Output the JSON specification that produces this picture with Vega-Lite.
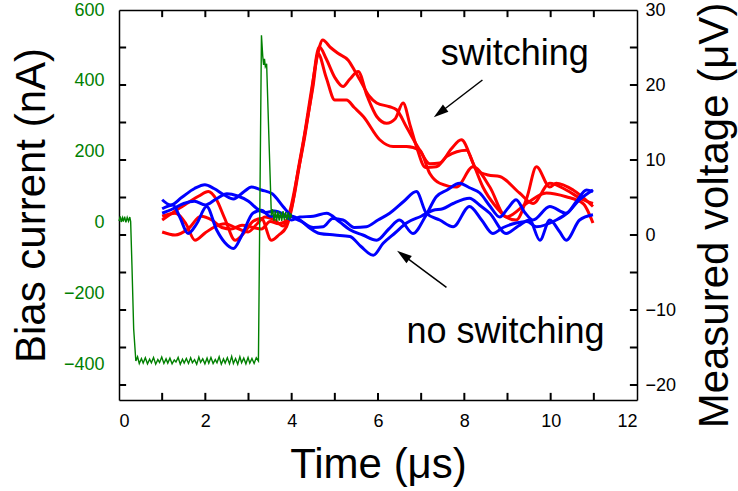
{
"$schema": "https://vega.github.io/schema/vega-lite/v6.json",
"width": 518, "height": 390,
"autosize": {"type": "none"},
"padding": {"left": 119, "top": 10, "right": 101, "bottom": 91},
"background": "white",
"config": {
  "font": "Liberation Sans",
  "view": {"stroke": null},
  "axis": {"grid": false, "labelFontSize": 18, "labelColor": "black", "labelFont": "Liberation Sans", "titleFont": "Liberation Sans", "titleFontWeight": "normal", "titleColor": "black"}
},
"datasets": {
  "traces": [
    {"id":"r1","c":"s","t":1.0,"v":2.0},{"id":"r1","c":"s","t":1.3,"v":3.2},{"id":"r1","c":"s","t":1.6,"v":4.3},{"id":"r1","c":"s","t":1.85,"v":5.2},{"id":"r1","c":"s","t":2.07,"v":5.8},{"id":"r1","c":"s","t":2.25,"v":4.8},{"id":"r1","c":"s","t":2.45,"v":2.2},{"id":"r1","c":"s","t":2.69,"v":-0.7},{"id":"r1","c":"s","t":2.9,"v":0.3},{"id":"r1","c":"s","t":3.1,"v":1.8},{"id":"r1","c":"s","t":3.3,"v":2.2},{"id":"r1","c":"s","t":3.53,"v":-0.7},{"id":"r1","c":"s","t":3.7,"v":0.0},{"id":"r1","c":"s","t":3.88,"v":1.1},{"id":"r1","c":"s","t":4.0,"v":3.5},{"id":"r1","c":"s","t":4.15,"v":8.7},{"id":"r1","c":"s","t":4.3,"v":13.5},{"id":"r1","c":"s","t":4.45,"v":19},{"id":"r1","c":"s","t":4.6,"v":24},{"id":"r1","c":"s","t":4.72,"v":26},{"id":"r1","c":"s","t":4.9,"v":25},{"id":"r1","c":"s","t":5.08,"v":24.2},{"id":"r1","c":"s","t":5.31,"v":23.3},{"id":"r1","c":"s","t":5.45,"v":22},{"id":"r1","c":"s","t":5.58,"v":20.7},{"id":"r1","c":"s","t":5.8,"v":18.5},{"id":"r1","c":"s","t":5.97,"v":17.6},{"id":"r1","c":"s","t":6.27,"v":17.1},{"id":"r1","c":"s","t":6.43,"v":16.7},{"id":"r1","c":"s","t":6.66,"v":14.4},{"id":"r1","c":"s","t":6.97,"v":11.3},{"id":"r1","c":"s","t":7.2,"v":9.5},{"id":"r1","c":"s","t":7.43,"v":9.6},{"id":"r1","c":"s","t":7.7,"v":11.5},{"id":"r1","c":"s","t":7.93,"v":12.7},{"id":"r1","c":"s","t":8.2,"v":9.6},{"id":"r1","c":"s","t":8.43,"v":6.4},{"id":"r1","c":"s","t":8.7,"v":4.0},{"id":"r1","c":"s","t":8.97,"v":2.4},{"id":"r1","c":"s","t":9.2,"v":2.0},{"id":"r1","c":"s","t":9.45,"v":5.0},{"id":"r1","c":"s","t":9.67,"v":9.1},{"id":"r1","c":"s","t":9.98,"v":6.4},{"id":"r1","c":"s","t":10.13,"v":6.9},{"id":"r1","c":"s","t":10.52,"v":6.0},{"id":"r1","c":"s","t":10.98,"v":3.8},
    {"id":"r2","c":"s","t":1.0,"v":2.5},{"id":"r2","c":"s","t":1.3,"v":2.9},{"id":"r2","c":"s","t":1.55,"v":1.5},{"id":"r2","c":"s","t":1.76,"v":-0.7},{"id":"r2","c":"s","t":2.0,"v":0.3},{"id":"r2","c":"s","t":2.22,"v":1.1},{"id":"r2","c":"s","t":2.45,"v":1.5},{"id":"r2","c":"s","t":2.7,"v":1.0},{"id":"r2","c":"s","t":2.99,"v":0.4},{"id":"r2","c":"s","t":3.2,"v":1.5},{"id":"r2","c":"s","t":3.38,"v":2.4},{"id":"r2","c":"s","t":3.6,"v":2.0},{"id":"r2","c":"s","t":3.8,"v":1.2},{"id":"r2","c":"s","t":3.95,"v":3.0},{"id":"r2","c":"s","t":4.15,"v":8.5},{"id":"r2","c":"s","t":4.3,"v":13},{"id":"r2","c":"s","t":4.45,"v":18.5},{"id":"r2","c":"s","t":4.64,"v":25.1},{"id":"r2","c":"s","t":4.8,"v":23.5},{"id":"r2","c":"s","t":5.0,"v":21},{"id":"r2","c":"s","t":5.19,"v":19.8},{"id":"r2","c":"s","t":5.35,"v":20.8},{"id":"r2","c":"s","t":5.54,"v":21.8},{"id":"r2","c":"s","t":5.75,"v":18.5},{"id":"r2","c":"s","t":5.97,"v":15.8},{"id":"r2","c":"s","t":6.2,"v":14.9},{"id":"r2","c":"s","t":6.4,"v":15.5},{"id":"r2","c":"s","t":6.58,"v":17.6},{"id":"r2","c":"s","t":6.75,"v":14.5},{"id":"r2","c":"s","t":6.89,"v":11.8},{"id":"r2","c":"s","t":7.1,"v":9.0},{"id":"r2","c":"s","t":7.35,"v":9.1},{"id":"r2","c":"s","t":7.6,"v":10.5},{"id":"r2","c":"s","t":8.05,"v":11.3},{"id":"r2","c":"s","t":8.28,"v":8.7},{"id":"r2","c":"s","t":8.55,"v":8.0},{"id":"r2","c":"s","t":8.82,"v":7.8},{"id":"r2","c":"s","t":9.28,"v":5.6},{"id":"r2","c":"s","t":9.59,"v":4.2},{"id":"r2","c":"s","t":9.98,"v":6.9},{"id":"r2","c":"s","t":10.36,"v":6.0},{"id":"r2","c":"s","t":10.75,"v":4.7},{"id":"r2","c":"s","t":10.98,"v":4.2},
    {"id":"r3","c":"s","t":1.0,"v":0.4},{"id":"r3","c":"s","t":1.3,"v":0.0},{"id":"r3","c":"s","t":1.6,"v":0.8},{"id":"r3","c":"s","t":1.9,"v":2.5},{"id":"r3","c":"s","t":2.15,"v":2.0},{"id":"r3","c":"s","t":2.38,"v":1.0},{"id":"r3","c":"s","t":2.6,"v":0.8},{"id":"r3","c":"s","t":2.85,"v":1.3},{"id":"r3","c":"s","t":3.1,"v":1.0},{"id":"r3","c":"s","t":3.3,"v":0.8},{"id":"r3","c":"s","t":3.5,"v":1.8},{"id":"r3","c":"s","t":3.7,"v":1.5},{"id":"r3","c":"s","t":3.9,"v":2.0},{"id":"r3","c":"s","t":4.05,"v":5.0},{"id":"r3","c":"s","t":4.2,"v":10},{"id":"r3","c":"s","t":4.35,"v":15},{"id":"r3","c":"s","t":4.5,"v":20},{"id":"r3","c":"s","t":4.61,"v":24.2},{"id":"r3","c":"s","t":4.8,"v":21},{"id":"r3","c":"s","t":5.0,"v":18},{"id":"r3","c":"s","t":5.27,"v":18},{"id":"r3","c":"s","t":5.45,"v":17},{"id":"r3","c":"s","t":5.66,"v":15.8},{"id":"r3","c":"s","t":6.04,"v":12.7},{"id":"r3","c":"s","t":6.35,"v":11.8},{"id":"r3","c":"s","t":6.66,"v":11.8},{"id":"r3","c":"s","t":6.97,"v":11.3},{"id":"r3","c":"s","t":7.2,"v":8.2},{"id":"r3","c":"s","t":7.43,"v":6.9},{"id":"r3","c":"s","t":7.82,"v":6.4},{"id":"r3","c":"s","t":8.2,"v":9.1},{"id":"r3","c":"s","t":8.59,"v":6.4},{"id":"r3","c":"s","t":8.97,"v":2.4},{"id":"r3","c":"s","t":9.44,"v":4.2},{"id":"r3","c":"s","t":9.9,"v":5.6},{"id":"r3","c":"s","t":10.36,"v":5.1},{"id":"r3","c":"s","t":10.75,"v":4.2},{"id":"r3","c":"s","t":10.98,"v":1.6},
    {"id":"b1","c":"n","t":1.0,"v":4.7},{"id":"b1","c":"n","t":1.2,"v":4.0},{"id":"b1","c":"n","t":1.45,"v":5.0},{"id":"b1","c":"n","t":1.75,"v":6.2},{"id":"b1","c":"n","t":1.99,"v":6.7},{"id":"b1","c":"n","t":2.2,"v":6.2},{"id":"b1","c":"n","t":2.45,"v":5.3},{"id":"b1","c":"n","t":2.65,"v":4.8},{"id":"b1","c":"n","t":2.9,"v":5.8},{"id":"b1","c":"n","t":3.07,"v":6.4},{"id":"b1","c":"n","t":3.3,"v":6.0},{"id":"b1","c":"n","t":3.55,"v":5.5},{"id":"b1","c":"n","t":3.8,"v":3.8},{"id":"b1","c":"n","t":4.0,"v":2.5},{"id":"b1","c":"n","t":4.23,"v":1.8},{"id":"b1","c":"n","t":4.5,"v":1.0},{"id":"b1","c":"n","t":4.73,"v":1.1},{"id":"b1","c":"n","t":4.95,"v":2.2},{"id":"b1","c":"n","t":5.19,"v":2.0},{"id":"b1","c":"n","t":5.45,"v":1.0},{"id":"b1","c":"n","t":5.73,"v":1.1},{"id":"b1","c":"n","t":6.0,"v":2.0},{"id":"b1","c":"n","t":6.27,"v":2.9},{"id":"b1","c":"n","t":6.6,"v":4.5},{"id":"b1","c":"n","t":6.89,"v":5.8},{"id":"b1","c":"n","t":7.12,"v":2.9},{"id":"b1","c":"n","t":7.43,"v":2.0},{"id":"b1","c":"n","t":7.74,"v":1.1},{"id":"b1","c":"n","t":8.12,"v":3.8},{"id":"b1","c":"n","t":8.4,"v":2.0},{"id":"b1","c":"n","t":8.66,"v":0.2},{"id":"b1","c":"n","t":8.9,"v":1.0},{"id":"b1","c":"n","t":9.2,"v":1.6},{"id":"b1","c":"n","t":9.45,"v":1.8},{"id":"b1","c":"n","t":9.67,"v":1.1},{"id":"b1","c":"n","t":10.13,"v":2.0},{"id":"b1","c":"n","t":10.4,"v":3.0},{"id":"b1","c":"n","t":10.67,"v":4.7},{"id":"b1","c":"n","t":10.98,"v":6.0},
    {"id":"b2","c":"n","t":1.0,"v":2.9},{"id":"b2","c":"n","t":1.25,"v":3.5},{"id":"b2","c":"n","t":1.5,"v":4.2},{"id":"b2","c":"n","t":1.75,"v":4.5},{"id":"b2","c":"n","t":2.0,"v":4.0},{"id":"b2","c":"n","t":2.25,"v":4.8},{"id":"b2","c":"n","t":2.5,"v":5.5},{"id":"b2","c":"n","t":2.75,"v":5.2},{"id":"b2","c":"n","t":3.0,"v":4.5},{"id":"b2","c":"n","t":3.2,"v":3.5},{"id":"b2","c":"n","t":3.4,"v":3.0},{"id":"b2","c":"n","t":3.6,"v":3.2},{"id":"b2","c":"n","t":3.8,"v":2.8},{"id":"b2","c":"n","t":4.0,"v":2.0},{"id":"b2","c":"n","t":4.19,"v":2.4},{"id":"b2","c":"n","t":4.5,"v":2.5},{"id":"b2","c":"n","t":4.81,"v":2.9},{"id":"b2","c":"n","t":5.1,"v":1.8},{"id":"b2","c":"n","t":5.35,"v":0.7},{"id":"b2","c":"n","t":5.65,"v":0.0},{"id":"b2","c":"n","t":5.97,"v":-0.7},{"id":"b2","c":"n","t":6.25,"v":0.8},{"id":"b2","c":"n","t":6.5,"v":2.0},{"id":"b2","c":"n","t":6.81,"v":0.2},{"id":"b2","c":"n","t":7.1,"v":2.5},{"id":"b2","c":"n","t":7.35,"v":5.1},{"id":"b2","c":"n","t":7.6,"v":6.0},{"id":"b2","c":"n","t":7.89,"v":6.9},{"id":"b2","c":"n","t":8.12,"v":6.3},{"id":"b2","c":"n","t":8.36,"v":5.6},{"id":"b2","c":"n","t":8.6,"v":3.8},{"id":"b2","c":"n","t":8.82,"v":2.4},{"id":"b2","c":"n","t":9.0,"v":3.5},{"id":"b2","c":"n","t":9.2,"v":4.7},{"id":"b2","c":"n","t":9.4,"v":3.0},{"id":"b2","c":"n","t":9.59,"v":2.0},{"id":"b2","c":"n","t":9.98,"v":3.8},{"id":"b2","c":"n","t":10.36,"v":2.9},{"id":"b2","c":"n","t":10.6,"v":4.5},{"id":"b2","c":"n","t":10.83,"v":6.0},{"id":"b2","c":"n","t":10.98,"v":5.8},
    {"id":"b3","c":"n","t":1.0,"v":3.5},{"id":"b3","c":"n","t":1.25,"v":4.0},{"id":"b3","c":"n","t":1.4,"v":2.5},{"id":"b3","c":"n","t":1.6,"v":0.2},{"id":"b3","c":"n","t":1.8,"v":1.5},{"id":"b3","c":"n","t":2.03,"v":3.8},{"id":"b3","c":"n","t":2.26,"v":0.7},{"id":"b3","c":"n","t":2.45,"v":-1.0},{"id":"b3","c":"n","t":2.65,"v":-1.8},{"id":"b3","c":"n","t":2.85,"v":0.0},{"id":"b3","c":"n","t":3.1,"v":2.9},{"id":"b3","c":"n","t":3.3,"v":3.3},{"id":"b3","c":"n","t":3.5,"v":2.5},{"id":"b3","c":"n","t":3.75,"v":2.5},{"id":"b3","c":"n","t":4.0,"v":2.5},{"id":"b3","c":"n","t":4.19,"v":2.0},{"id":"b3","c":"n","t":4.4,"v":1.0},{"id":"b3","c":"n","t":4.65,"v":0.2},{"id":"b3","c":"n","t":5.0,"v":0.0},{"id":"b3","c":"n","t":5.35,"v":-0.2},{"id":"b3","c":"n","t":5.6,"v":-1.5},{"id":"b3","c":"n","t":5.89,"v":-2.7},{"id":"b3","c":"n","t":6.12,"v":-1.1},{"id":"b3","c":"n","t":6.4,"v":0.3},{"id":"b3","c":"n","t":6.66,"v":1.6},{"id":"b3","c":"n","t":7.0,"v":2.5},{"id":"b3","c":"n","t":7.28,"v":3.3},{"id":"b3","c":"n","t":7.5,"v":3.5},{"id":"b3","c":"n","t":7.74,"v":4.2},{"id":"b3","c":"n","t":8.12,"v":4.9},{"id":"b3","c":"n","t":8.35,"v":4.0},{"id":"b3","c":"n","t":8.59,"v":2.9},{"id":"b3","c":"n","t":8.97,"v":0.2},{"id":"b3","c":"n","t":9.25,"v":1.2},{"id":"b3","c":"n","t":9.51,"v":2.0},{"id":"b3","c":"n","t":9.75,"v":-0.7},{"id":"b3","c":"n","t":9.98,"v":2.0},{"id":"b3","c":"n","t":10.2,"v":0.5},{"id":"b3","c":"n","t":10.36,"v":-0.7},{"id":"b3","c":"n","t":10.67,"v":2.0},{"id":"b3","c":"n","t":10.98,"v":2.7}
  ],
  "bias": [
    {"t":0,"i":5},{"t":0.03,"i":18},{"t":0.05,"i":2},{"t":0.08,"i":14},{"t":0.1,"i":3},{"t":0.13,"i":17},{"t":0.16,"i":1},{"t":0.19,"i":15},{"t":0.22,"i":4},{"t":0.25,"i":16},{"t":0.27,"i":3},{"t":0.3,"i":-120},{"t":0.34,"i":-300},{"t":0.39,"i":-390},{"t":0.43,"i":-378},{"t":0.47,"i":-397},{"t":0.52,"i":-383},{"t":0.56,"i":-396},{"t":0.61,"i":-381},{"t":0.66,"i":-398},{"t":0.71,"i":-385},{"t":0.75,"i":-395},{"t":0.8,"i":-380},{"t":0.85,"i":-399},{"t":0.9,"i":-386},{"t":0.94,"i":-394},{"t":0.99,"i":-379},{"t":1.04,"i":-397},{"t":1.09,"i":-384},{"t":1.13,"i":-396},{"t":1.18,"i":-382},{"t":1.23,"i":-398},{"t":1.28,"i":-387},{"t":1.32,"i":-393},{"t":1.37,"i":-380},{"t":1.42,"i":-399},{"t":1.47,"i":-385},{"t":1.51,"i":-396},{"t":1.56,"i":-383},{"t":1.61,"i":-397},{"t":1.66,"i":-381},{"t":1.7,"i":-395},{"t":1.75,"i":-386},{"t":1.8,"i":-399},{"t":1.85,"i":-379},{"t":1.89,"i":-394},{"t":1.94,"i":-384},{"t":1.99,"i":-398},{"t":2.04,"i":-382},{"t":2.08,"i":-396},{"t":2.13,"i":-380},{"t":2.18,"i":-397},{"t":2.23,"i":-386},{"t":2.27,"i":-395},{"t":2.32,"i":-378},{"t":2.37,"i":-399},{"t":2.42,"i":-384},{"t":2.46,"i":-396},{"t":2.51,"i":-381},{"t":2.56,"i":-398},{"t":2.61,"i":-377},{"t":2.65,"i":-397},{"t":2.7,"i":-383},{"t":2.75,"i":-399},{"t":2.8,"i":-378},{"t":2.84,"i":-395},{"t":2.89,"i":-382},{"t":2.94,"i":-398},{"t":2.99,"i":-380},{"t":3.03,"i":-396},{"t":3.08,"i":-383},{"t":3.13,"i":-397},{"t":3.18,"i":-381},{"t":3.23,"i":-390},{"t":3.3,"i":529},{"t":3.33,"i":470},{"t":3.35,"i":445},{"t":3.37,"i":462},{"t":3.39,"i":440},{"t":3.42,"i":448},{"t":3.47,"i":250},{"t":3.53,"i":20},{"t":3.56,"i":38},{"t":3.59,"i":6},{"t":3.62,"i":34},{"t":3.65,"i":4},{"t":3.68,"i":32},{"t":3.71,"i":6},{"t":3.74,"i":30},{"t":3.77,"i":5},{"t":3.8,"i":33},{"t":3.83,"i":7},{"t":3.86,"i":30},{"t":3.89,"i":8},{"t":3.92,"i":29},{"t":3.95,"i":9},{"t":3.98,"i":26},{"t":4.0,"i":15}
  ],
  "labels": [
    {"txt":"switching","t":9.167,"v":22.67},
    {"txt":"no switching","t":8.954,"v":-14.44}
  ],
  "arrows": [
    {"lab":"sw","t0":8.419,"v0":20.67,"t1":7.43,"v1":16.30},
    {"lab":"ns","t0":7.586,"v0":-6.97,"t1":6.581,"v1":-2.69}
  ],
  "xticks": [{"x":1},{"x":2},{"x":3},{"x":4},{"x":5},{"x":6},{"x":7},{"x":8},{"x":9},{"x":10},{"x":11}],
  "yticks": [{"y":-20},{"y":-15},{"y":-10},{"y":-5},{"y":0},{"y":5},{"y":10},{"y":15},{"y":20},{"y":25}]
},
"layer": [
  {
    "data": {"name": "traces"},
    "mark": {"type": "line", "strokeWidth": 3, "interpolate": "monotone"},
    "encoding": {
      "x": {"field": "t", "type": "quantitative", "scale": {"domain": [0, 12], "nice": false, "zero": false},
        "axis": {"orient": "top", "labels": false, "ticks": false, "domain": true, "domainColor": "black", "domainWidth": 1.5, "title": null}},
      "y": {"field": "v", "type": "quantitative", "scale": {"domain": [-22, 30], "nice": false, "zero": false},
        "axis": {"orient": "right", "values": [-20,-10,0,10,20,30], "ticks": false, "domain": true, "domainColor": "black", "domainWidth": 1.5, "labelPadding": 8,
          "title": "Measured voltage (μV)", "titleFontSize": 42, "titleAngle": 270, "titleBaseline": "alphabetic", "titleX": 90, "titleY": 205}},
      "detail": {"field": "id"},
      "color": {"field": "c", "type": "nominal", "scale": {"domain": ["s", "n"], "range": ["#ff0000", "#0000ff"]}, "legend": null}
    }
  },
  {
    "data": {"name": "bias"},
    "mark": {"type": "line", "strokeWidth": 1.4, "color": "#008000"},
    "encoding": {
      "x": {"field": "t", "type": "quantitative", "scale": {"domain": [0, 12], "nice": false, "zero": false},
        "axis": {"orient": "bottom", "values": [0,2,4,6,8,10,12], "ticks": false, "domain": true, "domainColor": "black", "domainWidth": 1.5, "labelPadding": 12,
          "title": "Time (μs)", "titleFontSize": 42, "titleBaseline": "alphabetic", "titleY": 77}},
      "y": {"field": "i", "type": "quantitative", "scale": {"domain": [-500, 600], "nice": false, "zero": false},
        "axis": {"orient": "left", "values": [-400,-200,0,200,400,600], "ticks": false, "domain": true, "domainColor": "black", "domainWidth": 1.5, "labelPadding": 15, "labelColor": "#008000",
          "title": "Bias current (nA)", "titleFontSize": 42, "titleAngle": 270, "titleBaseline": "alphabetic", "titleX": -75}}
    }
  },
  {
    "data": {"name": "xticks"},
    "mark": {"type": "rule", "strokeWidth": 2, "color": "black"},
    "encoding": {
      "x": {"field": "x", "type": "quantitative", "scale": {"domain": [0, 12], "nice": false, "zero": false}, "axis": null},
      "y": {"datum": -22, "type": "quantitative", "scale": {"domain": [-22, 30], "nice": false, "zero": false}, "axis": null},
      "y2": {"datum": -21.05}
    }
  },
  {
    "data": {"name": "xticks"},
    "mark": {"type": "rule", "strokeWidth": 2, "color": "black"},
    "encoding": {
      "x": {"field": "x", "type": "quantitative", "scale": {"domain": [0, 12], "nice": false, "zero": false}, "axis": null},
      "y": {"datum": 30, "type": "quantitative", "scale": {"domain": [-22, 30], "nice": false, "zero": false}, "axis": null},
      "y2": {"datum": 29.05}
    }
  },
  {
    "data": {"name": "yticks"},
    "mark": {"type": "rule", "strokeWidth": 2, "color": "black"},
    "encoding": {
      "y": {"field": "y", "type": "quantitative", "scale": {"domain": [-22, 30], "nice": false, "zero": false}, "axis": null},
      "x": {"datum": 0, "type": "quantitative", "scale": {"domain": [0, 12], "nice": false, "zero": false}, "axis": null},
      "x2": {"datum": 0.165}
    }
  },
  {
    "data": {"name": "yticks"},
    "mark": {"type": "rule", "strokeWidth": 2, "color": "black"},
    "encoding": {
      "y": {"field": "y", "type": "quantitative", "scale": {"domain": [-22, 30], "nice": false, "zero": false}, "axis": null},
      "x": {"datum": 12, "type": "quantitative", "scale": {"domain": [0, 12], "nice": false, "zero": false}, "axis": null},
      "x2": {"datum": 11.835}
    }
  },
  {
    "data": {"name": "labels"},
    "mark": {"type": "text", "fontSize": 36, "font": "Liberation Sans", "align": "center", "baseline": "alphabetic", "color": "black"},
    "encoding": {
      "x": {"field": "t", "type": "quantitative", "scale": {"domain": [0, 12], "nice": false, "zero": false}, "axis": null},
      "y": {"field": "v", "type": "quantitative", "scale": {"domain": [-22, 30], "nice": false, "zero": false}, "axis": null},
      "text": {"field": "txt"}
    }
  },
  {
    "data": {"name": "arrows"},
    "mark": {"type": "rule", "strokeWidth": 1.5, "color": "black"},
    "encoding": {
      "x": {"field": "t0", "type": "quantitative", "scale": {"domain": [0, 12], "nice": false, "zero": false}, "axis": null},
      "y": {"field": "v0", "type": "quantitative", "scale": {"domain": [-22, 30], "nice": false, "zero": false}, "axis": null},
      "x2": {"field": "t1"},
      "y2": {"field": "v1"}
    }
  },
  {
    "data": {"name": "arrows"},
    "mark": {"type": "point", "shape": "M0,-1L0.6,1L-0.6,1Z", "filled": true, "color": "black", "opacity": 1, "size": 225},
    "encoding": {
      "x": {"field": "t1", "type": "quantitative", "scale": {"domain": [0, 12], "nice": false, "zero": false}, "axis": null},
      "y": {"field": "v1", "type": "quantitative", "scale": {"domain": [-22, 30], "nice": false, "zero": false}, "axis": null},
      "angle": {"condition": {"test": "datum.lab === 'sw'", "value": 232.6}, "value": 306.5}
    }
  }
],
"resolve": {"scale": {"y": "independent"}, "axis": {"x": "independent", "y": "independent"}}
}
